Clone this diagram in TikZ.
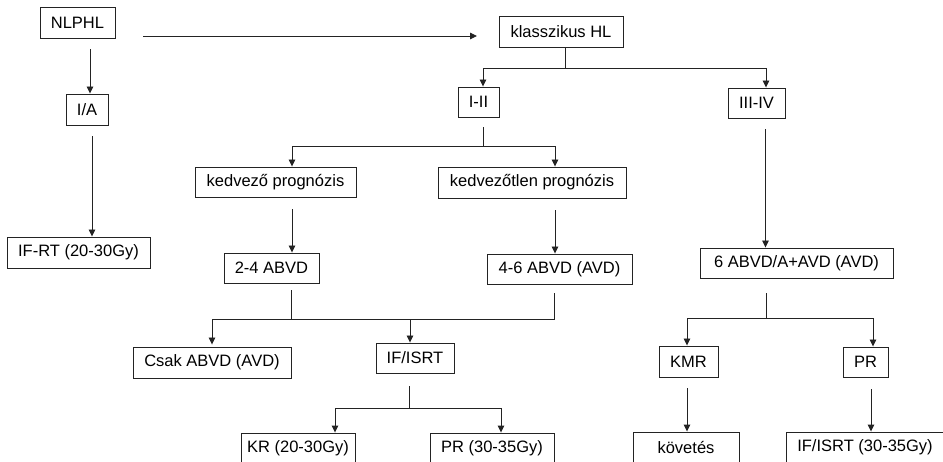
\documentclass[tikz,border=0pt]{standalone}
\usepackage{fontspec}
\setmainfont{Liberation Sans}
\usetikzlibrary{arrows.meta}
\definecolor{ink}{RGB}{35,35,35}
\begin{document}
\begin{tikzpicture}[x=1pt,y=-1pt,
  box/.style={draw=ink, line width=0.9pt, inner sep=0pt, minimum height=31pt,
    text=black, font=\fontsize{16.5}{19}\selectfont},
  link/.style={draw=ink, line width=0.9pt},
  arr/.style={link, -{Triangle[length=7pt,width=6.5pt]}}]
\useasboundingbox (0,0) rectangle (943,462);
\clip (0,0) rectangle (943,462);

% boxes
\node[box, minimum width=75pt]  (nlphl)   at (77.5,22.5)  {NLPHL};
\node[box, minimum width=42pt]  (ia)      at (87,109.5)   {I/A};
\node[box, minimum width=143pt] (ifrt)    at (78.5,252.5) {IF-RT (20-30Gy)};
\node[box, minimum width=124pt] (klass)   at (561,31.5)   {klasszikus HL};
\node[box, minimum width=41pt, minimum height=30pt]  (i12) at (478.5,102) {I-II};
\node[box, minimum width=57pt, minimum height=30pt]  (i34) at (756.5,103) {III-IV};
\node[box, minimum width=161pt, minimum height=30pt] (kedv)   at (275.5,182)  {kedvező prognózis};
\node[box, minimum width=188pt] (kedvtl)  at (532,182.5)  {kedvezőtlen prognózis};
\node[box, minimum width=95pt, minimum height=30pt]  (abvd24) at (271.5,268)  {2-4 ABVD};
\node[box, minimum width=145pt, minimum height=30pt] (abvd46) at (559.5,269)  {4-6 ABVD (AVD)};
\node[box, minimum width=193pt, minimum height=30pt] (abvd6)  at (796.5,263)  {6 ABVD/A+AVD (AVD)};
\node[box, minimum width=158pt] (csak)    at (212,362.5)  {Csak ABVD (AVD)};
\node[box, minimum width=78pt, minimum height=30pt]  (ifisrt) at (415,358)    {IF/ISRT};
\node[box, minimum width=59pt]  (kmr)     at (688.5,361.5){KMR};
\node[box, minimum width=45pt, minimum height=30pt]  (pr)     at (865.5,362)  {PR};
\node[box, minimum width=114pt] (kr)      at (298,448.5)  {KR (20-30Gy)};
\node[box, minimum width=124pt] (pr2)     at (492,448.5)  {PR (30-35Gy)};
\node[box, minimum width=106pt] (kovetes) at (686,447.5)  {követés};
\node[box, minimum width=158pt] (ifisrt2) at (865,447.5)  {IF/ISRT (30-35Gy)};

% NLPHL branch
\coordinate (h1) at (143,36);
\coordinate (h2) at (477,36);
\draw[arr] (h1) -- (h2);
\draw[arr] ([shift={(12.5,11)}]nlphl.south) -- ([xshift=12.5pt]nlphl.south |- ia.north);
\draw[arr] ([shift={(5,11)}]ia.south) -- ([xshift=5pt]ia.south |- ifrt.north);

% klasszikus HL split
\draw[link] ([xshift=4pt]klass.south) -- ++(0,21) coordinate (k1);
\draw[arr] (k1) -| ([xshift=4.5pt]i12.north);
\draw[arr] (k1) -| ([xshift=9.5pt]i34.north);

% I-II split
\draw[link] ([shift={(4.5,10)}]i12.south) -- ++(0,19) coordinate (j1);
\draw[arr] (j1) -| ([xshift=16.5pt]kedv.north);
\draw[arr] (j1) -| ([xshift=23pt]kedvtl.north);

% prognosis groups
\draw[arr] ([shift={(16.5,12)}]kedv.south) -- ([xshift=16.5pt]kedv.south |- abvd24.north);
\draw[arr] ([shift={(23,12)}]kedvtl.south) -- ([xshift=23pt]kedvtl.south |- abvd46.north);

% merge after chemotherapy
\draw[link] ([shift={(19.5,7)}]abvd24.south) -- ++(0,29) coordinate (m1);
\draw[link] ([shift={(-5.5,9)}]abvd46.south) |- (m1);
\draw[arr, shorten >=2pt] (m1) -| (csak.north);
\draw[arr] ([xshift=-5pt]ifisrt.north |- m1) -- ([xshift=-5pt]ifisrt.north);

% IF/ISRT split
\draw[link] ([shift={(-6,13)}]ifisrt.south) -- ++(0,22) coordinate (r1);
\draw[arr] (r1) -| ([xshift=37pt]kr.north);
\draw[arr] (r1) -| ([xshift=9pt]pr2.north);

% III-IV branch
\draw[arr] ([shift={(9,11)}]i34.south) -- ([xshift=9pt]i34.south |- abvd6.north);
\draw[link] ([shift={(-30.5,15)}]abvd6.south) -- ++(0,25) coordinate (s1);
\draw[arr] (s1) -| ([xshift=-1.5pt]kmr.north);
\draw[arr] (s1) -| ([xshift=7.5pt]pr.north);
\draw[arr] ([shift={(-1.5,11)}]kmr.south) -- ([xshift=-1.5pt]kmr.south |- kovetes.north);
\draw[arr] ([shift={(5.5,12)}]pr.south) -- ([xshift=5.5pt]pr.south |- ifisrt2.north);
\end{tikzpicture}
\end{document}
